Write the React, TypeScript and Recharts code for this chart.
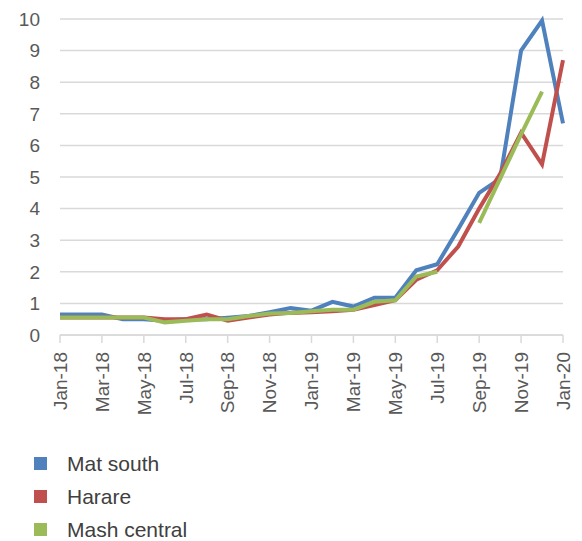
import { LineChart, Line, XAxis, YAxis, CartesianGrid } from "recharts";

const MONTHS = [
  "Jan-18", "Feb-18", "Mar-18", "Apr-18", "May-18", "Jun-18", "Jul-18", "Aug-18",
  "Sep-18", "Oct-18", "Nov-18", "Dec-18", "Jan-19", "Feb-19", "Mar-19", "Apr-19",
  "May-19", "Jun-19", "Jul-19", "Aug-19", "Sep-19", "Oct-19", "Nov-19", "Dec-19", "Jan-20",
];

const MAT_SOUTH = [
  0.65, 0.65, 0.65, 0.5, 0.5, 0.45, 0.5, 0.5, 0.55, 0.6, 0.72, 0.85, 0.77,
  1.05, 0.9, 1.18, 1.18, 2.05, 2.24, 3.35, 4.5, 4.95, 9.0, 9.95, 6.7,
];

const HARARE = [
  0.55, 0.55, 0.55, 0.55, 0.55, 0.5, 0.5, 0.65, 0.45, 0.55, 0.65, 0.7, 0.72,
  0.75, 0.8, 0.95, 1.1, 1.75, 2.05, 2.8, 4.0, 5.1, 6.4, 5.4, 8.7,
];

const MASH_CENTRAL: (number | null)[] = [
  0.55, 0.55, 0.55, 0.55, 0.55, 0.4, 0.45, 0.5, 0.5, 0.6, 0.68, 0.7, 0.75,
  0.8, 0.8, 1.05, 1.1, 1.85, 2.0, null, 3.55, 4.95, 6.35, 7.7, null,
];

const Y_TICKS = [0, 1, 2, 3, 4, 5, 6, 7, 8, 9, 10];

const SERIES = [
  { key: "matSouth", name: "Mat south", color: "#4F81BD" },
  { key: "harare", name: "Harare", color: "#C0504D" },
  { key: "mashCentral", name: "Mash central", color: "#9BBB59" },
];

const data = MONTHS.map((m, i) => ({
  month: m,
  matSouth: MAT_SOUTH[i],
  harare: HARARE[i],
  mashCentral: MASH_CENTRAL[i],
}));

const FONT = "'Liberation Sans', Arial, sans-serif";

function MonthTick(props: any) {
  const { x, y, payload } = props;
  return (
    <text
      x={x}
      y={y}
      transform={`rotate(-90, ${x}, ${y})`}
      textAnchor="end"
      dy="0.36em"
      fill="#595959"
      fontSize={19}
      fontFamily={FONT}
    >
      {payload.value}
    </text>
  );
}

export default function App() {
  return (
    <div style={{ position: "absolute", left: 0, top: 0, width: 582, height: 541, background: "#fff", overflow: "hidden" }}>
      <LineChart
        width={582}
        height={440}
        data={data}
        margin={{ top: 19, right: 19, left: 0, bottom: 0 }}
      >
        <CartesianGrid vertical={false} stroke="#d9d9d9" strokeWidth={1.5} />
        <XAxis
          dataKey="month"
          interval={1}
          height={105}
          stroke="#d9d9d9"
          strokeWidth={1.5}
          tickSize={8}
          tickMargin={9}
          tick={<MonthTick />}
        />
        <YAxis
          domain={[0, 10]}
          ticks={Y_TICKS}
          width={60}
          axisLine={false}
          tickLine={false}
          tickSize={0}
          tickMargin={20}
          tick={{ fill: "#595959", fontSize: 19, fontFamily: FONT }}
        />
        {SERIES.map((s) => (
          <Line
            key={s.key}
            type="linear"
            dataKey={s.key}
            stroke={s.color}
            strokeWidth={4}
            dot={false}
            isAnimationActive={false}
          />
        ))}
      </LineChart>
      <div style={{ position: "absolute", left: 34, top: 447, fontFamily: FONT }}>
        {SERIES.map((s) => (
          <div key={s.key} style={{ display: "flex", alignItems: "center", height: 33 }}>
            <span style={{ width: 13, height: 13, background: s.color, display: "inline-block" }} />
            <span style={{ marginLeft: 20, fontSize: 21, lineHeight: "20px", color: "#404040" }}>{s.name}</span>
          </div>
        ))}
      </div>
    </div>
  );
}
